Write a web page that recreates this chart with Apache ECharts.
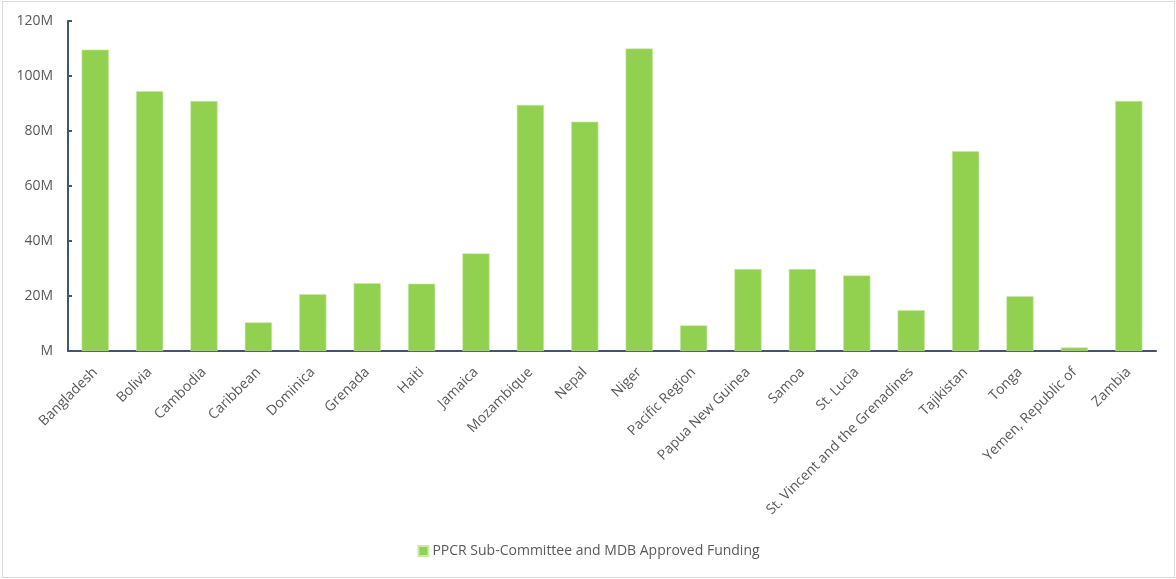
<!DOCTYPE html>
<html>
<head>
<meta charset="utf-8">
<script src="https://cdn.jsdelivr.net/npm/echarts@6/dist/echarts.min.js"></script>
<style>
  html, body { margin: 0; padding: 0; background: #ffffff; }
  #chart { position: absolute; left: 2px; top: 1px; width: 1173px; height: 577px;
           border: 1px solid #d9d9d9; box-sizing: border-box; }
</style>
</head>
<body>
<div id="chart"></div>
<script>
// Approved funding per country, in millions of USD
const countries = [
  'Bangladesh', 'Bolivia', 'Cambodia', 'Caribbean', 'Dominica', 'Grenada',
  'Haiti', 'Jamaica', 'Mozambique', 'Nepal', 'Niger', 'Pacific Region',
  'Papua New Guinea', 'Samoa', 'St. Lucia', 'St. Vincent and the Grenadines',
  'Tajikistan', 'Tonga', 'Yemen, Republic of', 'Zambia'
];
const approvedFunding = [
  109.6, 94.5, 90.9, 10.4, 20.7, 24.7,
  24.5, 35.5, 89.5, 83.4, 110, 9.3,
  29.8, 29.8, 27.5, 14.8,
  72.7, 19.9, 1.3, 90.9
];
const seriesName = 'PPCR Sub-Committee and MDB Approved Funding';

const font = '"Open Sans", Lato, sans-serif';
const axisColor = '#44546a';
const textColor = '#595959';

const chart = echarts.init(document.getElementById('chart'), null, { renderer: 'canvas' });
chart.setOption({
  animation: false,
  backgroundColor: '#ffffff',
  textStyle: { fontFamily: font },
  grid: { left: 65, right: 18, top: 19, bottom: 226, containLabel: false },
  legend: {
    top: 537,
    left: 'center',
    itemWidth: 10,
    itemHeight: 10,
    itemGap: 4,
    icon: 'rect',
    textStyle: { color: textColor, fontSize: 14, fontFamily: font, padding: [0, 0, 0, -1] },
    data: [seriesName]
  },
  xAxis: {
    type: 'category',
    data: countries,
    axisLine: { lineStyle: { color: axisColor, width: 2 } },
    axisTick: { inside: true, length: 4, lineStyle: { color: axisColor, width: 2 } },
    axisLabel: { rotate: 45, color: textColor, fontSize: 14, fontFamily: font, margin: 19, interval: 0 }
  },
  yAxis: {
    type: 'value',
    min: 0,
    max: 120,
    interval: 20,
    splitLine: { show: false },
    axisLine: { show: true, lineStyle: { color: axisColor, width: 2 } },
    axisTick: { show: true, inside: true, length: 4, lineStyle: { color: axisColor, width: 2 } },
    axisLabel: {
      color: textColor, fontSize: 14, fontFamily: font, margin: 15,
      formatter: v => (v === 0 ? '' : v) + 'M'
    }
  },
  series: [{
    name: seriesName,
    type: 'bar',
    data: approvedFunding,
    barCategoryGap: '50%',
    itemStyle: { color: '#92d050', borderColor: '#c9eaa8', borderWidth: 0.6 }
  }]
});
</script>
</body>
</html>
